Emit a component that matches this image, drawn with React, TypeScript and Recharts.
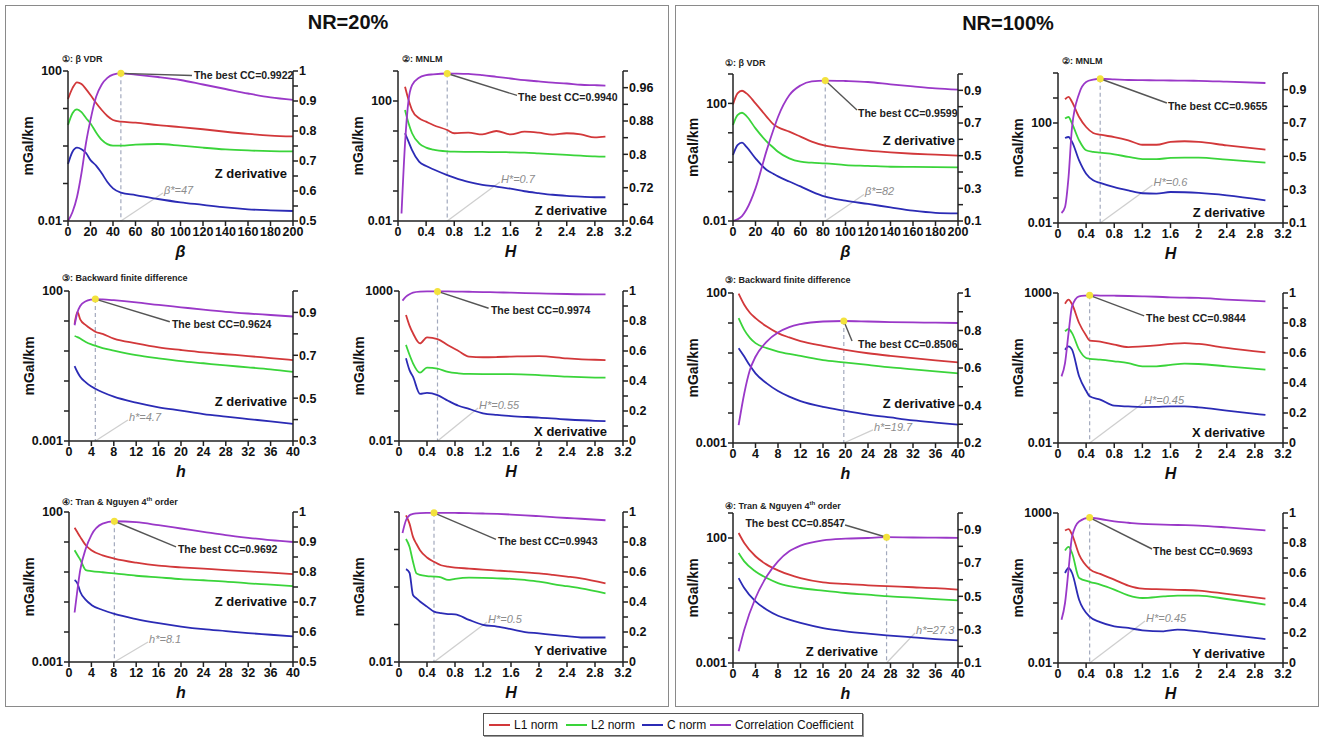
import React from 'react';
import { ComposedChart, Line, XAxis, YAxis, ReferenceLine, ReferenceDot } from 'recharts';

const FONT = '"Liberation Sans", Arial, Helvetica, sans-serif';
const RED = '#d2383a';
const GREEN = '#3ad43a';
const BLUE = '#2b2bb5';
const PURPLE = '#9a38c8';

// ---------- NR=20% ----------
// 1: beta VDR
const p1X = [0, 4, 8, 12, 16, 20, 25, 30, 35, 40, 47, 60, 80, 100, 120, 140, 160, 180, 200];
const p1L1 = [17.9, 35, 49.9, 45, 33, 22.9, 14, 9.1, 6.3, 4.93, 4.45, 4.2, 3.6, 3.2, 2.8, 2.4, 2.1, 1.9, 1.8];
const p1L2 = [3.63, 7.5, 9.5, 8.0, 5.6, 4.0, 2.3, 1.45, 1.12, 1.02, 1.02, 1.09, 1.13, 1.02, 0.9, 0.81, 0.76, 0.73, 0.72];
const p1C = [0.33, 0.7, 0.9, 0.82, 0.65, 0.42, 0.3, 0.187, 0.11, 0.074, 0.057, 0.049, 0.0386, 0.0315, 0.027, 0.023, 0.0205, 0.0193, 0.0185];
const p1CC = [0.5, 0.53, 0.58, 0.66, 0.76, 0.837, 0.914, 0.955, 0.977, 0.988, 0.9922, 0.988, 0.98, 0.97, 0.955, 0.94, 0.925, 0.912, 0.904];

// 2: MNLM, Z derivative
const p2X = [0.05, 0.1, 0.15, 0.2, 0.3, 0.4, 0.5, 0.7, 0.8, 1.0, 1.2, 1.4, 1.6, 1.8, 2.0, 2.2, 2.4, 2.6, 2.8, 2.95];
const p2L1 = [null, 300, 110, 50, 26.5, 20.5, 15.9, 10.8, 8.4, 8.8, 7.7, 10, 7.7, 9.5, 8.8, 7.6, 8.4, 7.7, 6.1, 6.5];
const p2L2 = [null, 50, 18, 8.4, 3.9, 2.8, 2.4, 2.1, 2.05, 2.02, 2.0, 1.98, 1.95, 1.9, 1.8, 1.7, 1.6, 1.5, 1.42, 1.39];
const p2C = [null, 8.4, 4.4, 2.3, 0.95, 0.68, 0.53, 0.34, 0.28, 0.2, 0.16, 0.14, 0.12, 0.098, 0.085, 0.075, 0.069, 0.065, 0.062, 0.062];
const p2CC = [0.658, 0.826, 0.93, 0.966, 0.984, 0.99, 0.992, 0.994, 0.9938, 0.993, 0.99, 0.986, 0.982, 0.978, 0.975, 0.972, 0.97, 0.967, 0.966, 0.965];

// 3: backward finite difference
const p3X = [1, 1.5, 2, 3, 4, 4.7, 6, 8, 12, 16, 20, 24, 28, 32, 36, 40];
const p3L1 = [8.0, 20, 11.4, 7.3, 5.3, 4.4, 3.7, 2.6, 1.8, 1.32, 1.08, 0.9, 0.78, 0.68, 0.58, 0.5];
const p3L2 = [3.16, 2.9, 2.6, 2.0, 1.66, 1.5, 1.25, 1.03, 0.73, 0.57, 0.46, 0.39, 0.33, 0.286, 0.245, 0.2];
const p3C = [0.316, 0.2, 0.139, 0.09, 0.065, 0.055, 0.042, 0.03, 0.019, 0.0133, 0.0103, 0.0079, 0.0065, 0.0054, 0.0045, 0.0037];
const p3CC = [0.84, 0.9, 0.93, 0.952, 0.96, 0.9624, 0.961, 0.957, 0.947, 0.935, 0.924, 0.913, 0.903, 0.895, 0.888, 0.881];

// 4: MNLM, X derivative
const p4X = [0.05, 0.1, 0.15, 0.2, 0.3, 0.4, 0.55, 0.7, 0.85, 1.0, 1.2, 1.4, 1.6, 2.0, 2.4, 2.8, 2.95];
const p4L1 = [null, 158, 70, 39, 18, 28.6, 25, 15.5, 10, 6.5, 6.2, 6.3, 6.5, 6.8, 5.7, 5.1, 5.0];
const p4L2 = [null, 16, 7.5, 3.9, 1.9, 2.8, 2.6, 2.0, 1.8, 1.72, 1.7, 1.7, 1.7, 1.58, 1.39, 1.3, 1.29];
const p4C = [null, 5.7, 2.3, 1.39, 0.37, 0.4, 0.34, 0.22, 0.15, 0.117, 0.084, 0.074, 0.068, 0.06, 0.052, 0.047, 0.046];
const p4CC = [0.936, 0.962, 0.978, 0.989, 0.9956, 0.997, 0.9974, 0.997, 0.996, 0.995, 0.993, 0.991, 0.989, 0.984, 0.98, 0.978, 0.978];

// 5: Tran & Nguyen 4th order
const p5X = [1, 1.5, 2, 3, 4, 6, 8.1, 12, 16, 20, 24, 28, 32, 36, 40];
const p5L1 = [30, 21, 14.8, 7.8, 5.3, 3.6, 2.8, 2.04, 1.62, 1.43, 1.29, 1.16, 1.05, 0.95, 0.85];
const p5L2 = [5.3, 3.7, 2.6, 1.16, 1.07, 0.98, 0.9, 0.75, 0.66, 0.58, 0.53, 0.48, 0.42, 0.38, 0.34];
const p5C = [0.54, 0.42, 0.22, 0.117, 0.08, 0.054, 0.04, 0.027, 0.0197, 0.0152, 0.0124, 0.0107, 0.0092, 0.0081, 0.0071];
const p5CC = [0.665, 0.74, 0.806, 0.878, 0.923, 0.961, 0.9692, 0.966, 0.956, 0.945, 0.934, 0.923, 0.914, 0.906, 0.9];

// 6: MNLM, Y derivative
const p6X = [0.05, 0.1, 0.15, 0.2, 0.25, 0.3, 0.4, 0.5, 0.6, 0.7, 0.8, 1.0, 1.2, 1.4, 1.6, 1.8, 2.0, 2.2, 2.4, 2.6, 2.95];
const p6L1 = [null, 81, 49, 21.7, 14, 9.6, 6.1, 4.7, 3.8, 3.5, 3.3, 3.1, 2.9, 2.75, 2.6, 2.45, 2.3, 2.1, 1.9, 1.7, 1.25];
const p6L2 = [null, 19, 11.8, 4.7, 2.3, 2.1, 1.96, 1.9, 1.8, 1.54, 1.65, 1.77, 1.75, 1.7, 1.65, 1.54, 1.4, 1.2, 1.05, 0.92, 0.68];
const p6C = [null, 3.0, 2.4, 0.61, 0.5, 0.41, 0.3, 0.22, 0.2, 0.19, 0.187, 0.133, 0.098, 0.088, 0.075, 0.063, 0.058, 0.053, 0.049, 0.045, 0.045];
const p6CC = [0.86, 0.945, 0.978, 0.987, 0.991, 0.993, 0.994, 0.9943, 0.9941, 0.9938, 0.9935, 0.992, 0.99, 0.987, 0.983, 0.978, 0.972, 0.966, 0.96, 0.955, 0.945];

// ---------- NR=100% ----------
// 7: beta VDR
const p7X = [0, 4, 8, 12, 20, 30, 36, 40, 50, 60, 70, 82, 100, 120, 140, 160, 180, 200];
const p7L1 = [92.5, 219, 269, 219, 100, 35, 19.3, 15.5, 10.9, 7.4, 5.0, 3.63, 2.95, 2.46, 2.15, 1.94, 1.8, 1.67];
const p7L2 = [18.4, 40, 48, 37, 14.1, 5.0, 3.1, 2.27, 1.35, 1.04, 0.96, 0.91, 0.8, 0.75, 0.7, 0.69, 0.68, 0.67];
const p7C = [1.75, 3.8, 4.6, 3.3, 1.35, 0.54, 0.4, 0.33, 0.22, 0.15, 0.1, 0.067, 0.049, 0.038, 0.029, 0.0224, 0.019, 0.0182];
const p7CC = [0.1, 0.11, 0.13, 0.17, 0.3, 0.534, 0.66, 0.737, 0.87, 0.93, 0.955, 0.9599, 0.957, 0.951, 0.937, 0.924, 0.912, 0.904];

// 8: MNLM, Z derivative
const p8X = [0.05, 0.1, 0.15, 0.2, 0.3, 0.4, 0.5, 0.6, 0.8, 1.0, 1.2, 1.4, 1.6, 1.8, 2.0, 2.4, 2.95];
const p8L1 = [null, 890, 1100, 690, 174, 69, 40, 34, 27.5, 20.3, 13.5, 13.5, 17.6, 18.6, 17.6, 12.7, 8.6];
const p8L2 = [null, 150, 174, 94, 20.3, 8.1, 7.0, 6.5, 5.6, 4.4, 3.6, 3.6, 4.0, 4.1, 4.1, 3.4, 2.6];
const p8C = [null, 25, 27.5, 17.6, 3.2, 0.94, 0.51, 0.4, 0.27, 0.2, 0.155, 0.15, 0.174, 0.17, 0.16, 0.128, 0.081];
const p8CC = [0.16, 0.196, 0.376, 0.676, 0.876, 0.946, 0.96, 0.9655, 0.962, 0.958, 0.957, 0.956, 0.955, 0.954, 0.953, 0.948, 0.94];

// 9: backward finite difference
const p9X = [1, 2, 3, 4, 6, 8, 10, 12, 16, 19.7, 24, 28, 32, 36, 40];
const p9L1 = [95, 40.6, 22, 14.5, 7.6, 4.6, 3.3, 2.5, 1.73, 1.3, 0.98, 0.8, 0.67, 0.57, 0.49];
const p9L2 = [14.5, 5.9, 3.2, 2.13, 1.45, 1.12, 0.93, 0.8, 0.58, 0.49, 0.4, 0.33, 0.285, 0.245, 0.21];
const p9C = [1.44, 0.76, 0.38, 0.21, 0.097, 0.054, 0.035, 0.025, 0.016, 0.012, 0.0089, 0.0071, 0.0057, 0.0048, 0.0041];
const p9CC = [0.295, 0.464, 0.589, 0.66, 0.741, 0.789, 0.818, 0.834, 0.848, 0.8506, 0.848, 0.845, 0.843, 0.842, 0.84];

// 10: MNLM, X derivative
const p10X = [0.05, 0.1, 0.15, 0.2, 0.3, 0.4, 0.45, 0.6, 0.8, 1.0, 1.2, 1.4, 1.6, 1.8, 2.0, 2.4, 2.95];
const p10L1 = [null, 440, 600, 420, 100, 38, 26, 24, 19, 15.8, 16.7, 18, 20, 21.5, 20, 14.8, 10.5];
const p10L2 = [null, 53, 63, 46, 12.9, 6.8, 6.4, 6.0, 5.3, 4.6, 3.6, 3.6, 4.0, 4.4, 4.3, 3.6, 2.78];
const p10C = [null, 12.9, 16.7, 12.9, 1.67, 0.55, 0.36, 0.28, 0.175, 0.165, 0.158, 0.16, 0.167, 0.165, 0.154, 0.12, 0.086];
const p10CC = [0.444, 0.533, 0.733, 0.911, 0.978, 0.983, 0.9844, 0.983, 0.982, 0.98, 0.978, 0.975, 0.971, 0.969, 0.967, 0.956, 0.944];

// 11: Tran & Nguyen 4th order
const p11X = [1, 2, 4, 6, 8, 10, 12, 16, 20, 24, 27.3, 32, 36, 40];
const p11L1 = [158, 63, 18.6, 8.6, 5.1, 3.4, 2.5, 1.69, 1.45, 1.28, 1.19, 1.07, 0.98, 0.86];
const p11L2 = [25, 11.6, 4.6, 2.5, 1.58, 1.2, 1.0, 0.78, 0.63, 0.54, 0.47, 0.41, 0.36, 0.32];
const p11C = [2.5, 1.0, 0.29, 0.136, 0.078, 0.054, 0.04, 0.025, 0.0185, 0.0149, 0.0128, 0.0106, 0.0091, 0.008];
const p11CC = [0.17, 0.3, 0.49, 0.62, 0.71, 0.77, 0.804, 0.836, 0.846, 0.85, 0.8547, 0.853, 0.852, 0.851];

// 12: MNLM, Y derivative
const p12X = [0.05, 0.1, 0.15, 0.2, 0.3, 0.45, 0.6, 0.8, 1.0, 1.2, 1.5, 1.7, 2.0, 2.4, 2.95];
const p12L1 = [null, 260, 290, 190, 41, 13.5, 9.3, 6.0, 3.8, 3.0, 2.85, 2.75, 2.6, 2.0, 1.39];
const p12L2 = [null, 56, 74, 46.4, 6.8, 5.1, 4.1, 2.8, 1.8, 1.47, 1.65, 1.76, 1.76, 1.36, 0.88];
const p12C = [null, 10, 14.7, 10, 1.29, 0.35, 0.23, 0.167, 0.147, 0.123, 0.114, 0.129, 0.114, 0.088, 0.063];
const p12CC = [0.289, 0.4, 0.622, 0.844, 0.944, 0.9693, 0.96, 0.944, 0.935, 0.927, 0.923, 0.92, 0.916, 0.904, 0.884];

// axis ticks
const betaTicks = [0, 20, 40, 60, 80, 100, 120, 140, 160, 180, 200];
const hTicks = [0, 4, 8, 12, 16, 20, 24, 28, 32, 36, 40];
const HTicks = [0, 0.4, 0.8, 1.2, 1.6, 2, 2.4, 2.8, 3.2];
const dec3to2 = [0.001, 0.01, 0.1, 1, 10, 100];
const dec3to3 = [0.001, 0.01, 0.1, 1, 10, 100, 1000];
const dec2to2 = [0.01, 0.1, 1, 10, 100];
const dec2to3 = [0.01, 0.1, 1, 10, 100, 1000];
const dec2to4 = [0.01, 0.1, 1, 10, 100, 1000, 10000];
const cc05 = [0.5, 0.55, 0.6, 0.65, 0.7, 0.75, 0.8, 0.85, 0.9, 0.95, 1];
const cc05Lab = [0.5, 0.6, 0.7, 0.8, 0.9, 1];
const cc064 = [0.64, 0.68, 0.72, 0.76, 0.8, 0.84, 0.88, 0.92, 0.96, 1];
const cc064Lab = [0.64, 0.72, 0.8, 0.88, 0.96];
const cc03 = [0.3, 0.4, 0.5, 0.6, 0.7, 0.8, 0.9, 1];
const cc03Lab = [0.3, 0.5, 0.7, 0.9];
const cc0 = [0, 0.1, 0.2, 0.3, 0.4, 0.5, 0.6, 0.7, 0.8, 0.9, 1];
const cc0Lab = [0, 0.2, 0.4, 0.6, 0.8, 1];
const cc01 = [0.1, 0.2, 0.3, 0.4, 0.5, 0.6, 0.7, 0.8, 0.9, 1];
const cc01Lab = [0.1, 0.3, 0.5, 0.7, 0.9];
const cc02 = [0.2, 0.3, 0.4, 0.5, 0.6, 0.7, 0.8, 0.9, 1];
const cc02Lab = [0.2, 0.4, 0.6, 0.8, 1];

type Num = number | null;
type PanelCfg = {
  left: number; top: number; w: number; h: number;
  xs: number[]; l1: Num[]; l2: Num[]; cn: Num[]; cc: number[];
  xDom: [number, number]; xTicks: number[]; xName: string;
  lDom: [number, number]; lTicks: number[]; lShow: number[];
  rDom: [number, number]; rTicks: number[]; rShow: number[];
  best: [number, number]; bestTxt: string; lead: [number, number]; bestAt: [number, number]; bestEnd?: boolean;
  opt: string; optAt: [number, number];
  deriv: string; derivAt: [number, number];
};

const panels: PanelCfg[] = [
  { left: 68, top: 71, w: 225, h: 150, xs: p1X, l1: p1L1, l2: p1L2, cn: p1C, cc: p1CC,
    xDom: [0, 200], xTicks: betaTicks, xName: 'β', lDom: [0.01, 100], lTicks: dec2to2, lShow: [0.01, 100],
    rDom: [0.5, 1], rTicks: cc05, rShow: cc05Lab, best: [47, 0.9922], bestTxt: 'The best CC=0.9922',
    lead: [0.551, 0.03], bestAt: [0.555, 0.03], opt: 'β*=47', optAt: [0.422, 0.813], deriv: 'Z derivative', derivAt: [0.973, 0.68] },
  { left: 398, top: 71, w: 225, h: 150, xs: p2X, l1: p2L1, l2: p2L2, cn: p2C, cc: p2CC,
    xDom: [0, 3.2], xTicks: HTicks, xName: 'H', lDom: [0.01, 1000], lTicks: dec2to3, lShow: [0.01, 100],
    rDom: [0.64, 1], rTicks: cc064, rShow: cc064Lab, best: [0.7, 0.994], bestTxt: 'The best CC=0.9940',
    lead: [0.529, 0.163], bestAt: [0.529, 0.175], opt: 'H*=0.7', optAt: [0.453, 0.74], deriv: 'Z derivative', derivAt: [0.929, 0.927] },
  { left: 69, top: 291, w: 224, h: 150, xs: p3X, l1: p3L1, l2: p3L2, cn: p3C, cc: p3CC,
    xDom: [0, 40], xTicks: hTicks, xName: 'h', lDom: [0.001, 100], lTicks: dec3to2, lShow: [0.001, 100],
    rDom: [0.3, 1], rTicks: cc03, rShow: cc03Lab, best: [4.7, 0.9624], bestTxt: 'The best CC=0.9624',
    lead: [0.45, 0.205], bestAt: [0.455, 0.22], opt: 'h*=4.7', optAt: [0.263, 0.86], deriv: 'Z derivative', derivAt: [0.973, 0.733] },
  { left: 399, top: 291, w: 224, h: 150, xs: p4X, l1: p4L1, l2: p4L2, cn: p4C, cc: p4CC,
    xDom: [0, 3.2], xTicks: HTicks, xName: 'H', lDom: [0.01, 1000], lTicks: dec2to3, lShow: [0.01, 1000],
    rDom: [0, 1], rTicks: cc0, rShow: cc0Lab, best: [0.55, 0.9974], bestTxt: 'The best CC=0.9974',
    lead: [0.4, 0.115], bestAt: [0.406, 0.127], opt: 'H*=0.55', optAt: [0.353, 0.78], deriv: 'X derivative', derivAt: [0.929, 0.933] },
  { left: 69, top: 512, w: 224, h: 150, xs: p5X, l1: p5L1, l2: p5L2, cn: p5C, cc: p5CC,
    xDom: [0, 40], xTicks: hTicks, xName: 'h', lDom: [0.001, 100], lTicks: dec3to2, lShow: [0.001, 100],
    rDom: [0.5, 1], rTicks: cc05, rShow: cc05Lab, best: [8.1, 0.9692], bestTxt: 'The best CC=0.9692',
    lead: [0.478, 0.233], bestAt: [0.482, 0.247], opt: 'h*=8.1', optAt: [0.353, 0.867], deriv: 'Z derivative', derivAt: [0.973, 0.593] },
  { left: 399, top: 512, w: 224, h: 150, xs: p6X, l1: p6L1, l2: p6L2, cn: p6C, cc: p6CC,
    xDom: [0, 3.2], xTicks: HTicks, xName: 'H', lDom: [0.01, 100], lTicks: dec2to2, lShow: [0.01],
    rDom: [0, 1], rTicks: cc0, rShow: cc0Lab, best: [0.5, 0.9943], bestTxt: 'The best CC=0.9943',
    lead: [0.433, 0.183], bestAt: [0.4375, 0.193], opt: 'H*=0.5', optAt: [0.393, 0.733], deriv: 'Y derivative', derivAt: [0.929, 0.92] },
  { left: 733, top: 74, w: 225, h: 147, xs: p7X, l1: p7L1, l2: p7L2, cn: p7C, cc: p7CC,
    xDom: [0, 200], xTicks: betaTicks, xName: 'β', lDom: [0.01, 1000], lTicks: dec2to3, lShow: [0.01, 100],
    rDom: [0.1, 1], rTicks: cc01, rShow: cc01Lab, best: [82, 0.9599], bestTxt: 'The best CC=0.9599',
    lead: [0.551, 0.245], bestAt: [0.551, 0.265], opt: 'β*=82', optAt: [0.582, 0.82], deriv: 'Z derivative', derivAt: [0.987, 0.449] },
  { left: 1058, top: 73, w: 225, h: 150, xs: p8X, l1: p8L1, l2: p8L2, cn: p8C, cc: p8CC,
    xDom: [0, 3.2], xTicks: HTicks, xName: 'H', lDom: [0.01, 10000], lTicks: dec2to4, lShow: [0.01, 100],
    rDom: [0.1, 1], rTicks: cc01, rShow: cc01Lab, best: [0.6, 0.9655], bestTxt: 'The best CC=0.9655',
    lead: [0.484, 0.2], bestAt: [0.484, 0.22], opt: 'H*=0.6', optAt: [0.42, 0.747], deriv: 'Z derivative', derivAt: [0.92, 0.927] },
  { left: 733, top: 293, w: 225, h: 150, xs: p9X, l1: p9L1, l2: p9L2, cn: p9C, cc: p9CC,
    xDom: [0, 40], xTicks: hTicks, xName: 'h', lDom: [0.001, 100], lTicks: dec3to2, lShow: [0.001, 100],
    rDom: [0.2, 1], rTicks: cc02, rShow: cc02Lab, best: [19.7, 0.8506], bestTxt: 'The best CC=0.8506',
    lead: [0.529, 0.32], bestAt: [0.551, 0.34], opt: 'h*=19.7', optAt: [0.622, 0.913], deriv: 'Z derivative', derivAt: [0.987, 0.733] },
  { left: 1058, top: 293, w: 225, h: 150, xs: p10X, l1: p10L1, l2: p10L2, cn: p10C, cc: p10CC,
    xDom: [0, 3.2], xTicks: HTicks, xName: 'H', lDom: [0.01, 1000], lTicks: dec2to3, lShow: [0.01, 1000],
    rDom: [0, 1], rTicks: cc0, rShow: cc0Lab, best: [0.45, 0.9844], bestTxt: 'The best CC=0.9844',
    lead: [0.383, 0.153], bestAt: [0.387, 0.167], opt: 'H*=0.45', optAt: [0.378, 0.733], deriv: 'X derivative', derivAt: [0.92, 0.927] },
  { left: 733, top: 513, w: 225, h: 150, xs: p11X, l1: p11L1, l2: p11L2, cn: p11C, cc: p11CC,
    xDom: [0, 40], xTicks: hTicks, xName: 'h', lDom: [0.001, 1000], lTicks: dec3to3, lShow: [0.001, 100],
    rDom: [0.1, 1], rTicks: cc01, rShow: cc01Lab, best: [27.3, 0.8547], bestTxt: 'The best CC=0.8547',
    lead: [0.498, 0.08], bestAt: [0.502, 0.067], bestEnd: true, opt: 'h*=27.3', optAt: [0.809, 0.8], deriv: 'Z derivative', derivAt: [0.644, 0.92] },
  { left: 1058, top: 513, w: 225, h: 150, xs: p12X, l1: p12L1, l2: p12L2, cn: p12C, cc: p12CC,
    xDom: [0, 3.2], xTicks: HTicks, xName: 'H', lDom: [0.01, 1000], lTicks: dec2to3, lShow: [0.01, 1000],
    rDom: [0, 1], rTicks: cc0, rShow: cc0Lab, best: [0.45, 0.9693], bestTxt: 'The best CC=0.9693',
    lead: [0.418, 0.24], bestAt: [0.418, 0.253], opt: 'H*=0.45', optAt: [0.387, 0.72], deriv: 'Y derivative', derivAt: [0.92, 0.933] },
];

const titles: { x: number; y: number; node: React.ReactNode }[] = [
  { x: 62, y: 59, node: '①: β VDR' },
  { x: 402, y: 59, node: '②: MNLM' },
  { x: 62, y: 278, node: '③: Backward finite difference' },
  { x: 62, y: 499, node: <>④: Tran &amp; Nguyen 4<sup style={{ fontSize: 6 }}>th</sup> order</> },
  { x: 725, y: 63, node: '①: β VDR' },
  { x: 1062, y: 61, node: '②: MNLM' },
  { x: 725, y: 280, node: '③: Backward finite difference' },
  { x: 725, y: 503, node: <>④: Tran &amp; Nguyen 4<sup style={{ fontSize: 6 }}>th</sup> order</> },
];

const tick = { fill: '#111', fontSize: 12.5, fontWeight: 700, fontFamily: FONT };
const ax = { stroke: '#222', strokeWidth: 1.5 };
const fmt = (show: number[]) => (v: number) => (show.includes(v) ? String(v) : '');

function Panel({ p }: { p: PanelCfg }) {
  const rows = p.xs.map((x, i) => ({ x, l1: p.l1[i], l2: p.l2[i], cn: p.cn[i], cc: p.cc[i] }));
  const [x0, x1] = p.xDom;
  const [r0, r1] = p.rDom;
  const fx = (f: number) => x0 + f * (x1 - x0);
  const fy = (f: number) => r1 - f * (r1 - r0);
  const [bx, by] = p.best;
  const line = (key: string, color: string, axis: string) => (
    <Line yAxisId={axis} dataKey={key} type="monotone" stroke={color} strokeWidth={1.8} dot={false} isAnimationActive={false} />
  );
  return (
    <div style={{ position: 'absolute', left: p.left - 50, top: p.top - 8 }}>
      <ComposedChart width={p.w + 90} height={p.h + 50} data={rows} margin={{ top: 8, right: 0, bottom: 0, left: 0 }}>
        <XAxis dataKey="x" type="number" domain={p.xDom} ticks={p.xTicks} interval={0} height={42}
          tickSize={5} tickMargin={1} tick={tick} axisLine={ax} tickLine={ax}
          label={{ value: p.xName, position: 'insideBottom', offset: 6, fill: '#111', fontSize: 16,
            fontWeight: 700, fontStyle: 'italic', fontFamily: FONT }} />
        <YAxis yAxisId="l" scale="log" domain={p.lDom} ticks={p.lTicks} interval={0} width={50}
          tickSize={5} tickMargin={1} tick={tick} axisLine={ax} tickLine={ax} tickFormatter={fmt(p.lShow)}
          label={{ value: 'mGal/km', angle: -90, position: 'insideLeft', offset: 10, fill: '#111', fontSize: 14,
            fontWeight: 700, fontFamily: FONT, style: { textAnchor: 'middle' } }} />
        <YAxis yAxisId="r" orientation="right" domain={p.rDom} ticks={p.rTicks} interval={0} width={40}
          tickSize={5} tickMargin={1} tick={tick} axisLine={ax} tickLine={ax} tickFormatter={fmt(p.rShow)} />
        <ReferenceLine yAxisId="r" segment={[{ x: bx, y: by }, { x: bx, y: r0 }]} stroke="#a2a9bd"
          strokeDasharray="4 3" strokeWidth={1.2} ifOverflow="visible" />
        <ReferenceLine yAxisId="r" segment={[{ x: bx, y: r0 }, { x: fx(p.optAt[0]), y: fy(p.optAt[1]) }]}
          stroke="#cfcfcf" strokeWidth={1.3} ifOverflow="visible" />
        {line('l1', RED, 'l')}
        {line('l2', GREEN, 'l')}
        {line('cn', BLUE, 'l')}
        {line('cc', PURPLE, 'r')}
        <ReferenceLine yAxisId="r" segment={[{ x: bx, y: by }, { x: fx(p.lead[0]), y: fy(p.lead[1]) }]}
          stroke="#555" strokeWidth={1.4} ifOverflow="visible" />
        <ReferenceDot yAxisId="r" x={bx} y={by} r={3.5} fill="#f3e23c" stroke="none" ifOverflow="visible" />
        <ReferenceDot yAxisId="r" x={fx(p.bestAt[0])} y={fy(p.bestAt[1])} r={0} fill="none" stroke="none" ifOverflow="visible"
          label={{ value: p.bestTxt, position: p.bestEnd ? 'left' : 'right', offset: 1, fill: '#222', fontSize: 10.5,
            fontWeight: 700, fontFamily: FONT }} />
        <ReferenceDot yAxisId="r" x={fx(p.optAt[0])} y={fy(p.optAt[1])} r={0} fill="none" stroke="none" ifOverflow="visible"
          label={{ value: p.opt, position: 'right', offset: 1, dy: -3, fill: '#8d8d8d', fontSize: 11,
            fontStyle: 'italic', fontFamily: FONT }} />
        <ReferenceDot yAxisId="r" x={fx(p.derivAt[0])} y={fy(p.derivAt[1])} r={0} fill="none" stroke="none" ifOverflow="visible"
          label={{ value: p.deriv, position: 'left', offset: 0, fill: '#111', fontSize: 13, fontWeight: 700, fontFamily: FONT }} />
      </ComposedChart>
    </div>
  );
}

const legendItems = [
  { name: 'L1 norm', color: RED, x: 489 },
  { name: 'L2 norm', color: GREEN, x: 566 },
  { name: 'C norm', color: BLUE, x: 642 },
  { name: 'Correlation Coefficient', color: PURPLE, x: 710 },
];

export default function App() {
  const box = (left: number, width: number) => (
    <div style={{ position: 'absolute', left, top: 5, width, height: 702, border: '1.5px solid #8a8a8a', boxSizing: 'border-box' }} />
  );
  return (
    <div style={{ position: 'absolute', left: 0, top: 0, width: 1323, height: 740, background: '#fff', fontFamily: FONT, overflow: 'hidden' }}>
      {box(5, 664)}
      {box(675, 644)}
      <div style={{ position: 'absolute', left: 16, width: 664, top: 11, textAlign: 'center', fontSize: 20, fontWeight: 700, color: '#111' }}>NR=20%</div>
      <div style={{ position: 'absolute', left: 675, width: 666, top: 12, textAlign: 'center', fontSize: 20, fontWeight: 700, color: '#111' }}>NR=100%</div>
      {titles.map((t, i) => (
        <div key={i} style={{ position: 'absolute', left: t.x, top: t.y - 7, fontSize: 9, lineHeight: '14px', fontWeight: 700, color: '#222', whiteSpace: 'nowrap' }}>
          {t.node}
        </div>
      ))}
      {panels.map((p, i) => <Panel key={i} p={p} />)}
      <div style={{ position: 'absolute', left: 483, top: 713, width: 380, height: 23, border: '1px solid #555', boxShadow: '1px 1px 0 #999', boxSizing: 'border-box', background: '#fff' }} />
      {legendItems.map((it) => (
        <div key={it.name} style={{ position: 'absolute', left: it.x, top: 716, height: 17, display: 'flex', alignItems: 'center', fontSize: 12, color: '#111', whiteSpace: 'nowrap' }}>
          <span style={{ display: 'inline-block', width: 21, height: 2, background: it.color, marginRight: 4 }} />
          {it.name}
        </div>
      ))}
    </div>
  );
}
